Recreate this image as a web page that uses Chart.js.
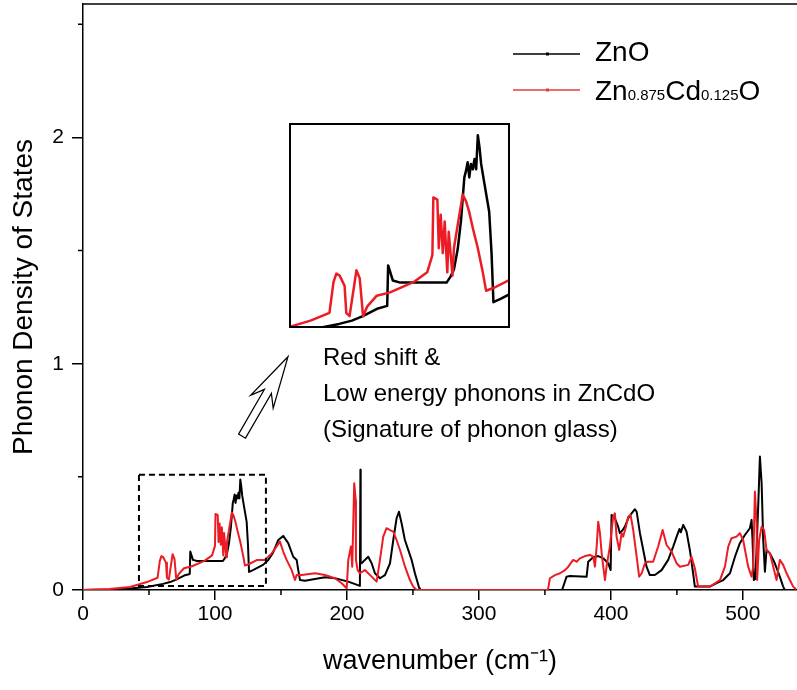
<!DOCTYPE html>
<html>
<head>
<meta charset="utf-8">
<script src="https://cdn.jsdelivr.net/npm/chart.js@4.4.0/dist/chart.umd.min.js"></script>
<style>
  body { margin: 0; background: #fff; }
  #wrap { position: relative; width: 797px; height: 690px; }
  #mainChart { position: absolute; left: 0; top: 0; }
  #insetChart { position: absolute; left: 289px; top: 123px; }
</style>
</head>
<body>
<div id="wrap">
  <canvas id="mainChart" width="797" height="690"></canvas>
  <canvas id="insetChart" width="221" height="205"></canvas>
</div>
<script>
// ZnO phonon DOS
const znoWn = [0, 20.5, 35.6, 48.5, 60.6, 66, 70.6, 76.6, 80.9, 81.3, 83.3, 86.4, 106, 107.6, 109.1, 110.7,
  112.1, 113.5, 114.2, 114.9, 115.6, 116.3, 117.1, 117.8, 118.5, 119.2, 119.9, 120.6, 121.9, 124, 125, 125.8,
  128.8, 136.4, 140.4, 143.9, 148, 151.7, 155.5, 159.3, 161.9, 163.1, 164.4, 168.2, 183.3, 190.9, 201, 209.8,
  210.2, 210.4, 211.1, 213.6, 216.1, 218.7, 221.2, 225, 228.8, 232.6, 235.1, 237.6, 239.4, 241.4, 243.9, 249,
  251.5, 254.8, 255.3, 363, 366.4, 368.9, 381.6, 382.8, 386.6, 390.4, 394.2, 398, 399.8, 400.5, 403, 405.5,
  406.8, 408.9, 410.6, 413.1, 415.7, 418.2, 419.5, 422, 424.5, 427, 429.5, 433.3, 438.4, 443.4, 447.2, 449.8,
  452, 453, 454.8, 457.3, 459.8, 462.3, 463.6, 475, 480.1, 485.1, 490.2, 494, 497.7, 501.5, 505.3, 506.6,
  507.3, 508.3, 509.5, 511.6, 512.9, 514.2, 515.4, 516.7, 517.9, 520.5, 524.2, 528, 530.5, 531.8, 541];
const znoDos = [0, 0.002, 0.007, 0.013, 0.027, 0.035, 0.046, 0.064, 0.071, 0.17, 0.133, 0.128, 0.128, 0.142, 0.16, 0.21,
  0.28, 0.385, 0.401, 0.422, 0.385, 0.418, 0.405, 0.43, 0.405, 0.488, 0.459, 0.418, 0.373, 0.301, 0.2, 0.08,
  0.088, 0.111, 0.133, 0.164, 0.221, 0.239, 0.207, 0.147, 0.133, 0.088, 0.044, 0.041, 0.056, 0.052, 0.037, 0.018,
  0.531, 0.118, 0.118, 0.133, 0.147, 0.118, 0.074, 0.052, 0.066, 0.118, 0.221, 0.317, 0.346, 0.295, 0.221, 0.133,
  0.074, 0.008, 0, 0, 0.059, 0.062, 0.059, 0.125, 0.145, 0.15, 0.14, 0.118, 0.088, 0.332, 0.317, 0.28,
  0.251, 0.265, 0.28, 0.317, 0.339, 0.357, 0.346, 0.251, 0.177, 0.103, 0.066, 0.066, 0.088, 0.133, 0.192, 0.236,
  0.27, 0.255, 0.288, 0.258, 0.177, 0.074, 0.015, 0.015, 0.03, 0.044, 0.074, 0.147, 0.207, 0.243, 0.273, 0.31,
  0.221, 0.044, 0.05, 0.369, 0.59, 0.472, 0.221, 0.081, 0.177, 0.162, 0.118, 0.059, 0.015, 0, 0];

// Zn0.875Cd0.125O phonon DOS
const cdWn = [0, 20, 35.6, 48.5, 56.5, 58.2, 59.4, 60.8, 62.9, 63.6, 65, 67.9, 69.3, 70.7, 72.5, 76.5, 82.1, 92,
  97.8, 100, 100.4, 102.1, 102.7, 103.5, 104.4, 105.2, 106.3, 106.9, 108.5, 109.1, 110.7, 112.1, 112.8, 114.2,
  115.5, 117.1, 119.2, 121.3, 122.7, 126.3, 132, 137.9, 143, 149.2, 151.7, 154.3, 158.1, 160.6, 161.9, 165.7,
  175.8, 183.3, 190.9, 196, 199.8, 201, 203, 204, 205.5, 206.6, 206.8, 208.1, 209.8, 213.6, 218.7, 222.5, 225,
  227.5, 230, 232.6, 235.1, 237.6, 240.2, 244, 247.7, 250.2, 252.8, 352, 352.5, 353.8, 357.6, 361.4, 365.2,
  367.7, 371.4, 374, 376.5, 380.3, 384.1, 386.6, 387.9, 389.2, 390.4, 391.7, 393, 394.2, 395.5, 396.7, 399.2,
  401.7, 403, 404.3, 406.3, 408.1, 409.3, 411.4, 413.1, 414.9, 416.9, 419.5, 421.4, 423.3, 425.8, 428.3, 432,
  435.8, 439.2, 442.2, 446, 449.8, 452.3, 458.6, 461.1, 463.6, 466.1, 475, 482.6, 486.4, 488.9, 491.4, 495.2,
  497.7, 500.2, 504, 506.6, 507.8, 509.1, 510.4, 510.8, 512.3, 514.2, 516.1, 517.9, 520.5, 523, 525.5, 528,
  530.5, 533.1, 535.6, 538.1, 540.2];
const cdDos = [0, 0.004, 0.013, 0.035, 0.054, 0.129, 0.15, 0.145, 0.12, 0.054, 0.046, 0.158, 0.138, 0.046, 0.07, 0.096, 0.104, 0.129,
  0.153, 0.195, 0.336, 0.331, 0.212, 0.294, 0.2, 0.277, 0.153, 0.252, 0.145, 0.212, 0.269, 0.318, 0.343, 0.327,
  0.302, 0.261, 0.212, 0.153, 0.108, 0.116, 0.133, 0.133, 0.162, 0.214, 0.17, 0.133, 0.088, 0.044, 0.066, 0.066,
  0.074, 0.066, 0.052, 0.03, 0.008, 0.133, 0.192, 0.103, 0.472, 0.398, 0.133, 0.088, 0.074, 0.088, 0.059, 0.037, 0.133,
  0.236, 0.273, 0.265, 0.258, 0.221, 0.177, 0.103, 0.044, 0.015, 0, 0, 0.008, 0.052, 0.066, 0.074, 0.088,
  0.103, 0.133, 0.125, 0.14, 0.15, 0.155, 0.147, 0.103, 0.192, 0.302, 0.251, 0.162, 0.103, 0.044, 0.103, 0.192,
  0.324, 0.339, 0.236, 0.177, 0.251, 0.236, 0.28, 0.324, 0.332, 0.265, 0.147, 0.059, 0.074, 0.118, 0.125, 0.125,
  0.192, 0.265, 0.199, 0.169, 0.118, 0.103, 0.111, 0.147, 0.096, 0.015, 0.015, 0.044, 0.103, 0.192, 0.229, 0.236,
  0.251, 0.221, 0.103, 0.059, 0.103, 0.435, 0.295, 0.044, 0.221, 0.28, 0.265, 0.177, 0.162, 0.103, 0.044, 0.133,
  0.111, 0.074, 0.044, 0.015, 0.003];

const seriesNames = ['ZnO', 'Zn0.875Cd0.125O'];
const noteLines = ['Red shift &', 'Low energy phonons in ZnCdO', '(Signature of phonon glass)'];

const FONT = "'Liberation Sans', Arial, sans-serif";
const RED = '#ec1c24';
Chart.defaults.font.family = FONT;
Chart.defaults.color = '#000';

function toPoints(xs, ys) {
    return xs.map((x, i) => ({ x: x, y: ys[i] }));
}

function makeDatasets(width) {
    return [
        { label: seriesNames[0], data: toPoints(znoWn, znoDos), borderColor: '#000', borderWidth: width,
          pointRadius: 0, borderJoinStyle: 'round', order: 2 },
        { label: seriesNames[1], data: toPoints(cdWn, cdDos), borderColor: RED, borderWidth: width,
          pointRadius: 0, borderJoinStyle: 'round', order: 1 }
    ];
}

// extras: top frame, minor ticks, dashed zoom box, arrow, note, legend
const extras = {
    id: 'extras',
    afterDraw(chart) {
        const ctx = chart.ctx;
        const area = chart.chartArea;
        const xs = chart.scales.x, ys = chart.scales.y;
        ctx.save();
        ctx.strokeStyle = '#000';
        ctx.lineWidth = 1.5;
        ctx.beginPath();
        ctx.moveTo(area.left, area.top);
        ctx.lineTo(area.right, area.top);
        ctx.stroke();

        // minor ticks
        ctx.beginPath();
        for (let v = 50; v < xs.max; v += 100) {
            const px = xs.getPixelForValue(v);
            ctx.moveTo(px, area.bottom);
            ctx.lineTo(px, area.bottom + 5);
        }
        for (let v = 0.5; v < ys.max; v += 1) {
            const py = ys.getPixelForValue(v);
            ctx.moveTo(area.left, py);
            ctx.lineTo(area.left - 5, py);
        }
        ctx.stroke();

        // dashed box around the zoomed region
        const bx0 = xs.getPixelForValue(42.4), bx1 = xs.getPixelForValue(138.6);
        const by0 = ys.getPixelForValue(0.509), by1 = ys.getPixelForValue(0.018);
        ctx.setLineDash([6, 4]);
        ctx.lineWidth = 2;
        ctx.strokeRect(bx0, by0, bx1 - bx0, by1 - by0);
        ctx.setLineDash([]);

        // hollow arrow
        const tip = { x: xs.getPixelForValue(155.3), y: ys.getPixelForValue(1.031) };
        const tail = { x: xs.getPixelForValue(120.5), y: ys.getPixelForValue(0.68) };
        const dx = tip.x - tail.x, dy = tip.y - tail.y;
        const len = Math.hypot(dx, dy);
        const ux = dx / len, uy = dy / len, nx = -uy, ny = ux;
        const shape = [[0, 0], [-52, 13], [-40, 4], [-len, 4], [-len, -4], [-40, -4], [-52, -13]];
        ctx.beginPath();
        shape.forEach((p, i) => {
            const X = tip.x + p[0] * ux + p[1] * nx;
            const Y = tip.y + p[0] * uy + p[1] * ny;
            if (i === 0) ctx.moveTo(X, Y); else ctx.lineTo(X, Y);
        });
        ctx.closePath();
        ctx.fillStyle = '#fff';
        ctx.fill();
        ctx.lineWidth = 1.2;
        ctx.stroke();

        // note text
        ctx.fillStyle = '#000';
        ctx.font = '24px ' + FONT;
        ctx.textAlign = 'left';
        ctx.textBaseline = 'alphabetic';
        const nx0 = xs.getPixelForValue(181.8);
        [0.996, 0.836, 0.677].forEach((v, i) => {
            ctx.fillText(noteLines[i], nx0, ys.getPixelForValue(v));
        });

        // legend
        const rows = [
            { color: '#000', lineY: 54, base: 61, parts: [['ZnO', 28]] },
            { color: '#e43c3c', lineY: 90, base: 100, parts: [['Zn', 28], ['0.875', 15], ['Cd', 28], ['0.125', 15], ['O', 28]] }
        ];
        rows.forEach(r => {
            ctx.strokeStyle = r.color;
            ctx.lineWidth = 1.5;
            ctx.beginPath();
            ctx.moveTo(513, r.lineY);
            ctx.lineTo(580, r.lineY);
            ctx.stroke();
            ctx.fillStyle = r.color;
            ctx.fillRect(546, r.lineY - 1.5, 3, 3);
            ctx.fillStyle = '#000';
            let tx = 595;
            r.parts.forEach(p => {
                ctx.font = p[1] + 'px ' + FONT;
                ctx.fillText(p[0], tx, r.base);
                tx += ctx.measureText(p[0]).width;
            });
        });
        ctx.restore();
    }
};

new Chart(document.getElementById('mainChart'), {
    type: 'line',
    data: { datasets: makeDatasets(2) },
    options: {
        responsive: false,
        animation: false,
        devicePixelRatio: 1,
        layout: { padding: { top: 4, right: 0, left: 0, bottom: 0 } },
        plugins: { legend: { display: false }, tooltip: { enabled: false } },
        scales: {
            x: {
                type: 'linear', min: 0, max: 541,
                ticks: { stepSize: 100, includeBounds: false, font: { size: 21 }, padding: 2, maxRotation: 0 },
                grid: { drawOnChartArea: false, tickLength: 10, color: '#000', lineWidth: 1.5 },
                border: { display: true, color: '#000', width: 1.5 },
                title: { display: true, text: 'wavenumber (cm\u207B\u00B9)', font: { size: 27 }, padding: { top: 0, bottom: 12 } },
                afterFit: s => { s.height = 100; s.paddingLeft = 0; s.paddingRight = 0; }
            },
            y: {
                type: 'linear', min: 0, max: 2.59,
                ticks: { stepSize: 1, includeBounds: false, font: { size: 21 }, padding: 8 },
                grid: { drawOnChartArea: false, tickLength: 11, color: '#000', lineWidth: 1.5 },
                border: { display: true, color: '#000', width: 1.5 },
                title: { display: true, text: 'Phonon Density of States', font: { size: 28 }, padding: { top: 7, bottom: 0 } },
                afterFit: s => { s.width = 83; s.paddingTop = 0; s.paddingBottom = 0; }
            }
        }
    },
    plugins: [extras]
});

// inset: same data, zoomed on the low-energy window
const insetFrame = {
    id: 'insetFrame',
    beforeDraw(chart) {
        const ctx = chart.ctx;
        ctx.save();
        ctx.fillStyle = '#fff';
        ctx.fillRect(0, 0, chart.width, chart.height);
        ctx.restore();
    },
    afterDraw(chart) {
        const ctx = chart.ctx;
        ctx.save();
        ctx.strokeStyle = '#000';
        ctx.lineWidth = 2;
        ctx.strokeRect(1, 1, chart.width - 2, chart.height - 2);
        ctx.restore();
    }
};

new Chart(document.getElementById('insetChart'), {
    type: 'line',
    data: { datasets: makeDatasets(2.5) },
    options: {
        responsive: false,
        animation: false,
        devicePixelRatio: 1,
        layout: { padding: 0 },
        plugins: { legend: { display: false }, tooltip: { enabled: false } },
        scales: {
            x: { type: 'linear', min: 39.4, max: 132.8, display: false },
            y: { type: 'linear', min: 0.017, max: 0.518, display: false }
        }
    },
    plugins: [insetFrame]
});
</script>
</body>
</html>
